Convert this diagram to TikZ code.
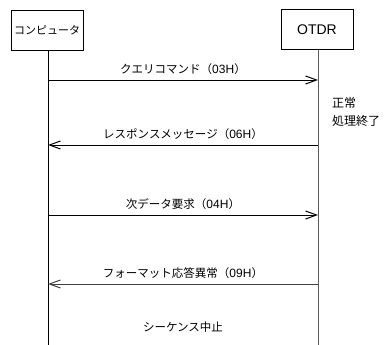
\documentclass[tikz,border=0pt]{standalone}
\usepackage{fontspec}
\setmainfont{Noto Sans CJK JP}
\newfontfamily\lat{Liberation Sans}
\usetikzlibrary{arrows.meta}
\begin{document}
\begin{tikzpicture}[x=1pt,y=-1pt,
  font=\fontsize{11}{13}\selectfont,
  actor/.style={draw, line width=0.9pt, minimum width=72pt, minimum height=40pt, inner sep=0pt},
  life/.style={line width=1pt},
  msg/.style={line width=1pt, -{Straight Barb[length=11pt,width=8pt]}},
  lbl/.style={inner sep=0pt, above=5pt, font=\fontsize{11.5}{13}\selectfont}]
\useasboundingbox (0,0) rectangle (388,345);
\fill[white] (0,0) rectangle (388,345);
\node[actor] (pc) at (47,30) {コンピュータ};
\node[actor, font=\lat\fontsize{14}{16}\selectfont] (otdr) at (317,29.5) {OTDR};
\coordinate (pcend) at (48,345);
\coordinate (otdrend) at (318,345);
\draw[life] (pc.south -| pcend) -- (pcend);
\draw[life, draw=black!65] (otdr.south -| otdrend) -- (otdrend);
\coordinate (a1l) at (48,80);  \coordinate (a1r) at (318,80);
\coordinate (a2l) at (48,145); \coordinate (a2r) at (318,145);
\coordinate (a3l) at (48,215); \coordinate (a3r) at (318,215);
\coordinate (a4l) at (48,284); \coordinate (a4r) at (318,284);
\draw[msg] (a1l) -- node[lbl] (m1) {クエリコマンド（{\lat\fontsize{12}{13}\selectfont 03H}）} (a1r);
\draw[msg] (a2r) -- node[lbl] (m2) {レスポンスメッセージ（{\lat\fontsize{12}{13}\selectfont 06H}）} (a2l);
\draw[msg] (a3l) -- node[lbl] (m3) {次データ要求（{\lat\fontsize{12}{13}\selectfont 04H}）} (a3r);
\draw[msg, draw=black!75] (a4r) -- node[lbl] (m4) {フォーマット応答異常（{\lat\fontsize{12}{13}\selectfont 09H}）} (a4l);
\node[anchor=west, align=left, inner sep=0pt, font=\fontsize{12}{18}\selectfont] (note) at (332,112) {正常\\処理終了};
\node[inner sep=0pt, font=\fontsize{11.5}{13}\selectfont] (stop) at (183,327) {シーケンス中止};
\end{tikzpicture}
\end{document}
